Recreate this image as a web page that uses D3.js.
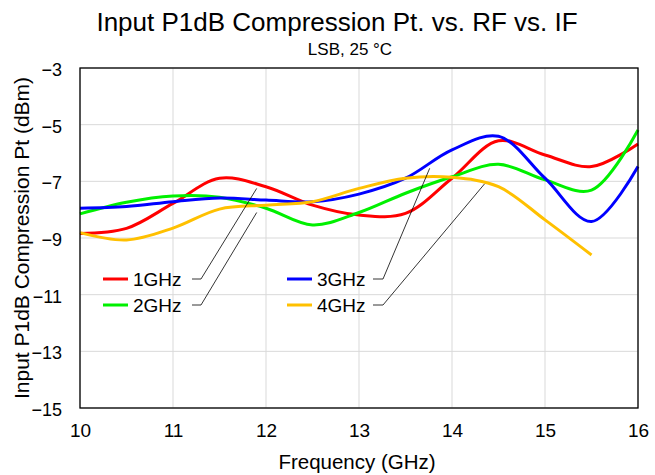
<!DOCTYPE html>
<html>
<head>
<meta charset="utf-8">
<script src="https://cdn.jsdelivr.net/npm/d3@7"></script>
<style>
  body { margin: 0; background: #fff; }
  text { font-family: Arial, "Liberation Sans", sans-serif; fill: #000; }
</style>
</head>
<body>
<div id="chart"></div>
<script>
// data (0.5 GHz steps)
const freqs = [10, 10.5, 11, 11.5, 12, 12.5, 13, 13.5, 14, 14.5, 15, 15.5, 16];
const seriesNames = ["1GHz", "2GHz", "3GHz", "4GHz"];
const if1 = [-8.84, -8.66, -7.78, -6.89, -7.19, -7.84, -8.19, -8.13, -6.89, -5.57, -6.07, -6.48, -5.68];
const if2 = [-8.15, -7.74, -7.52, -7.56, -7.95, -8.54, -8.10, -7.42, -6.84, -6.40, -6.95, -7.31, -5.19];
const if3 = [-7.95, -7.89, -7.72, -7.59, -7.66, -7.72, -7.45, -6.89, -5.89, -5.41, -6.89, -8.42, -6.48];
const if4 = [-8.81, -9.07, -8.65, -7.98, -7.84, -7.72, -7.25, -6.89, -6.86, -7.19, -8.36, -9.60];
const xTicks = [10, 11, 12, 13, 14, 15, 16];
const yTicks = [-3, -5, -7, -9, -11, -13, -15];

const colors = ["#ff0000", "#00f000", "#0000ff", "#ffc000"];
const allSeries = [if1, if2, if3, if4];

const width = 655, height = 475;
const margin = { top: 68, right: 17, bottom: 67, left: 80 };

const svg = d3.select("#chart")
  .append("svg")
  .attr("width", width)
  .attr("height", height);

const x = d3.scaleLinear().domain([10, 16]).range([margin.left, width - margin.right]);
const y = d3.scaleLinear().domain([-15, -3]).range([height - margin.bottom, margin.top]);

// gridlines
svg.append("g")
  .selectAll("line")
  .data(xTicks)
  .join("line")
  .attr("x1", d => x(d)).attr("x2", d => x(d))
  .attr("y1", y(-3)).attr("y2", y(-15))
  .attr("stroke", "#d9d9d9");

svg.append("g")
  .selectAll("line")
  .data(yTicks)
  .join("line")
  .attr("x1", x(10)).attr("x2", x(16))
  .attr("y1", d => y(d)).attr("y2", d => y(d))
  .attr("stroke", "#d9d9d9");

// axes (labels only, no tick marks)
const xAxis = svg.append("g")
  .attr("transform", `translate(0,${y(-15)})`)
  .call(d3.axisBottom(x).tickValues(xTicks).tickSize(0).tickPadding(16).tickFormat(d3.format("d")));
xAxis.select(".domain").remove();
xAxis.selectAll("text").style("font-size", "19px").style("font-family", "Arial, 'Liberation Sans', sans-serif");

const yAxis = svg.append("g")
  .attr("transform", `translate(${x(10)},0)`)
  .call(d3.axisLeft(y).tickValues(yTicks).tickSize(0).tickPadding(18).tickFormat(d3.format("d")));
yAxis.select(".domain").remove();
yAxis.selectAll("text")
  .attr("dy", "0.42em")
  .style("font-size", "18px").style("font-family", "Arial, 'Liberation Sans', sans-serif");

// lines
const line = d3.line()
  .x((d, i) => x(freqs[i]))
  .y(d => y(d))
  .curve(d3.curveCatmullRom.alpha(0.5));

svg.append("g")
  .selectAll("path")
  .data(allSeries)
  .join("path")
  .attr("d", d => line(d))
  .attr("fill", "none")
  .attr("stroke", (d, i) => colors[i])
  .attr("stroke-width", 3);

// plot border
svg.append("rect")
  .attr("x", x(10)).attr("y", y(-3))
  .attr("width", x(16) - x(10)).attr("height", y(-15) - y(-3))
  .attr("fill", "none")
  .attr("stroke", "#000")
  .attr("stroke-width", 1.3);

// legend with leader lines
const legendLayout = [
  { lx: 103, ly: 279, l0: 89, l1: 98, tip: [11.9, -7.25] },
  { lx: 103, ly: 305, l0: 89, l1: 98, tip: [11.9, -8.1] },
  { lx: 287, ly: 279, l0: 86, l1: 96, tip: [13.76, -6.54] },
  { lx: 287, ly: 305, l0: 86, l1: 96, tip: [14.35, -7.09] }
];

const leg = svg.append("g")
  .selectAll("g")
  .data(seriesNames)
  .join("g");

leg.append("line")
  .attr("x1", (d, i) => legendLayout[i].lx)
  .attr("x2", (d, i) => legendLayout[i].lx + 25)
  .attr("y1", (d, i) => legendLayout[i].ly)
  .attr("y2", (d, i) => legendLayout[i].ly)
  .attr("stroke", (d, i) => colors[i])
  .attr("stroke-width", 3);

leg.append("text")
  .attr("x", (d, i) => legendLayout[i].lx + 30)
  .attr("y", (d, i) => legendLayout[i].ly)
  .attr("dy", "0.36em")
  .style("font-size", "19px")
  .text(d => d);

leg.append("polyline")
  .attr("points", (d, i) => {
    const L = legendLayout[i];
    return [[L.lx + L.l0, L.ly], [L.lx + L.l1, L.ly], [x(L.tip[0]), y(L.tip[1])]].join(" ");
  })
  .attr("fill", "none")
  .attr("stroke", "#000")
  .attr("stroke-width", 0.8);

// titles
svg.append("text")
  .attr("x", 337).attr("y", 31)
  .attr("text-anchor", "middle")
  .style("font-size", "26px")
  .text("Input P1dB Compression Pt. vs. RF vs. IF");

svg.append("text")
  .attr("x", 350).attr("y", 55)
  .attr("text-anchor", "middle")
  .style("font-size", "17px")
  .text("LSB, 25 °C");

svg.append("text")
  .attr("x", 357).attr("y", 469)
  .attr("text-anchor", "middle")
  .style("font-size", "20.5px")
  .text("Frequency (GHz)");

svg.append("text")
  .attr("transform", `translate(29,${(y(-3) + y(-15)) / 2}) rotate(-90)`)
  .attr("text-anchor", "middle")
  .style("font-size", "21px")
  .text("Input P1dB Compression Pt (dBm)");
</script>
</body>
</html>
